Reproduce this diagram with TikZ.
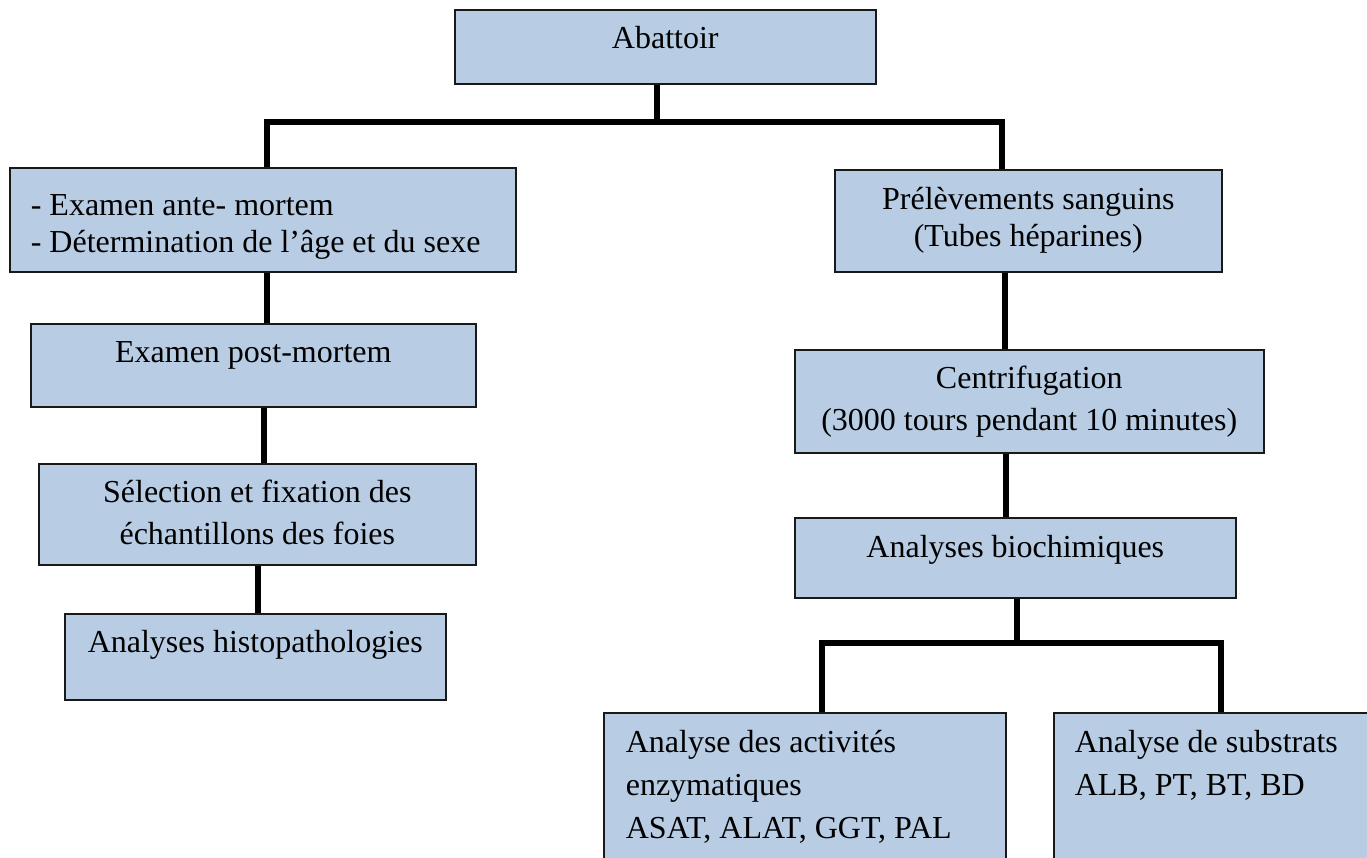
\documentclass[tikz,border=0pt]{standalone}
\usepackage{fontspec}
\setmainfont{Liberation Serif}
\usepackage{tikz}
\usetikzlibrary{positioning,calc}

\definecolor{bleuboite}{RGB}{184,204,228}
\newdimen\unitpx \unitpx=0.75pt
\newcommand{\gauche}{\raggedright\leftskip=21\unitpx\relax}
% largeur, hauteur (px), alignement, ligne de base, texte
\newcommand{\boite}[5]{\parbox[c][#2\unitpx][t]{#1\unitpx}{#3\rule{0pt}{#4\unitpx}#5}}

\tikzset{
  etape/.style={draw=black!90, line width=1.2pt, fill=bleuboite, rectangle, inner sep=0pt, anchor=north west, font=\fontsize{24}{27.75}\selectfont},
  large/.style={font=\fontsize{24}{31}\selectfont},
  lien/.style={line width=4.5pt, black},
}

\begin{document}
\begin{tikzpicture}[x=0.75pt, y=-0.75pt]
    \useasboundingbox (0,0) rectangle (1367,857);
    \clip (0,0) rectangle (1367,857);

    \node (abattoir) [etape] at (454,9) {\boite{421}{74}{\centering}{39}{Abattoir}};
    % branche gauche
    \node (ante) [etape] at (9,167) {\boite{506}{104}{\gauche}{48}{- Examen ante- mortem\\- Détermination de l’âge et du sexe}};
    \node (postm) [etape] at (30,323) {\boite{445}{83}{\centering}{39}{Examen post-mortem}};
    \node (selection) [etape, large] at (38,463) {\boite{437}{101}{\centering}{39}{Sélection et fixation des\\échantillons des foies}};
    \node (histo) [etape] at (64,613) {\boite{381}{86}{\centering}{39}{Analyses histopathologies}};
    % branche droite
    \node (prelev) [etape] at (834,169) {\boite{387}{102}{\centering}{40}{Prélèvements sanguins\\(Tubes héparines)}};
    \node (centri) [etape, large] at (794,349) {\boite{469}{103}{\centering}{39}{Centrifugation\\(3000 tours pendant 10 minutes)}};
    \node (biochim) [etape] at (794,517) {\boite{441}{80}{\centering}{40}{Analyses biochimiques}};
    \node (enzym) [etape, font=\fontsize{24}{32}\selectfont] at (603,712) {\boite{402}{170}{\raggedright\leftskip=22\unitpx\relax}{40}{Analyse des activités\\enzymatiques\\ASAT, ALAT, GGT, PAL}};
    \node (substrat) [etape, font=\fontsize{24}{32}\selectfont] at (1053,712) {\boite{340}{170}{\raggedright\leftskip=21\unitpx\relax}{40}{Analyse de substrats\\ALB, PT, BT, BD}};

    % jonctions
    \coordinate (jA) at (657,122);
    \coordinate (gA) at (267,122);
    \coordinate (dA) at (1002,122);
    \coordinate (g1) at (267,0);
    \coordinate (g2) at (264,0);
    \coordinate (g3) at (258,0);
    \coordinate (d1) at (1005,0);
    \coordinate (d2) at (1006,0);
    \coordinate (jB) at (1017,643);
    \coordinate (gB) at (822,643);
    \coordinate (dB) at (1221,643);

    \draw[lien] (abattoir.south -| jA) -- (jA);
    \draw[lien] (ante.north -| gA) -- (gA) -- (dA) -- (prelev.north -| dA);
    \draw[lien] (ante.south -| g1) -- (postm.north -| g1);
    \draw[lien] (postm.south -| g2) -- (selection.north -| g2);
    \draw[lien] (selection.south -| g3) -- (histo.north -| g3);
    \draw[lien] (prelev.south -| d1) -- (centri.north -| d1);
    \draw[lien] (centri.south -| d2) -- (biochim.north -| d2);
    \draw[lien] (biochim.south -| jB) -- (jB);
    \draw[lien] (enzym.north -| gB) -- (gB) -- (dB) -- (substrat.north -| dB);
\end{tikzpicture}
\end{document}
